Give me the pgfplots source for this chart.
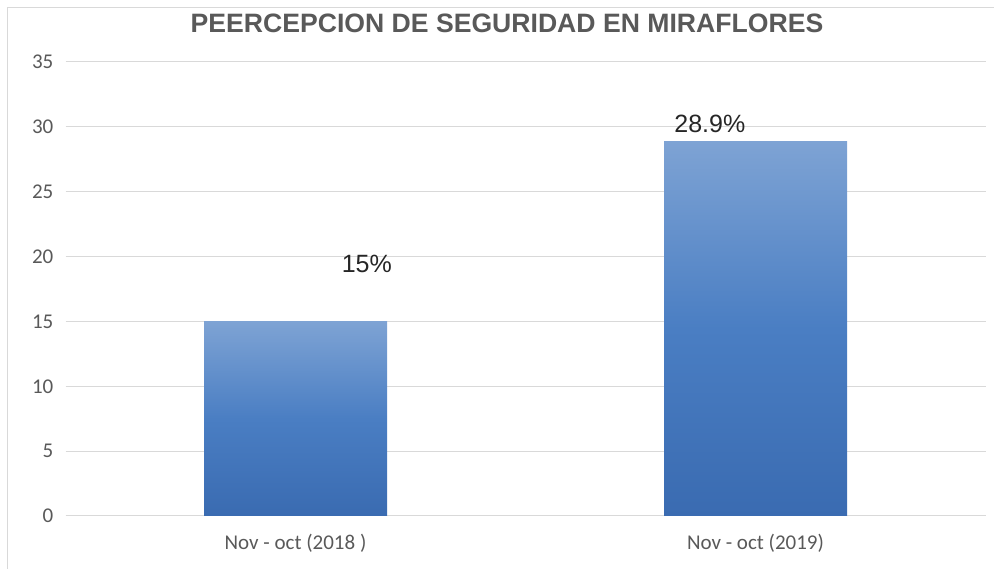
\documentclass[border=0pt]{standalone}
\usepackage{pgfplots}
\pgfplotsset{compat=1.18}
\usepackage{fontspec}
\setmainfont{Liberation Sans}
\newfontfamily\carlito{Carlito}
\definecolor{gridc}{HTML}{D9D9D9}
\definecolor{txt}{HTML}{595959}
\definecolor{bartop}{HTML}{7EA3D4}
\definecolor{barmid}{HTML}{4A7EC3}
\definecolor{barbot}{HTML}{3A6BB1}
\begin{document}
\begin{tikzpicture}[x=1bp,y=1bp]
\path[use as bounding box] (0,0) rectangle (994,569);
\draw[gridc, line width=1bp] (7,-2) -- (7,561) -- (996,561);
\begin{axis}[
  at={(65.5bp,53bp)}, anchor=south west,
  scale only axis, width=920bp, height=454bp,
  xmin=-0.5, xmax=1.5, ymin=0, ymax=35,
  ybar, bar width=183bp, bar shift=0pt,
  xtick={0,1}, xticklabels={Nov - oct (2018 ), Nov - oct (2019)},
  ytick={0,5,...,35},
  ymajorgrids, grid style={gridc, line width=1bp},
  axis x line*=bottom, axis y line*=left,
  x axis line style={gridc, line width=1bp},
  y axis line style={draw=none},
  major tick length=0pt,
  tick label style={font=\carlito\fontsize{21bp}{24bp}\selectfont, text=txt, inner sep=0pt},
  yticklabel style={anchor=east, xshift=-12bp},
  xticklabel style={anchor=base, yshift=-34bp},
  /pgf/number format/assume math mode=true,
  clip=false,
]
\addplot[draw=none, shading=axis, top color=bartop, bottom color=barbot, middle color=barmid, shading angle=0]
  coordinates {(0,15)};
\addplot[draw=none, shading=axis, top color=bartop, bottom color=barbot, middle color=barmid, shading angle=0]
  coordinates {(1,28.9)};
\node[font=\fontsize{25bp}{28bp}\selectfont, text=black!85, inner sep=0pt] at (axis cs:0.155,19.43) {15\%};
\node[font=\fontsize{25bp}{28bp}\selectfont, text=black!85, inner sep=0pt] at (axis cs:0.9007,30.22) {28.9\%};
\end{axis}
\node[font=\bfseries\fontsize{26.6bp}{30bp}\selectfont, text=txt] at (507,546) {PEERCEPCION DE SEGURIDAD EN MIRAFLORES};
\end{tikzpicture}
\end{document}
